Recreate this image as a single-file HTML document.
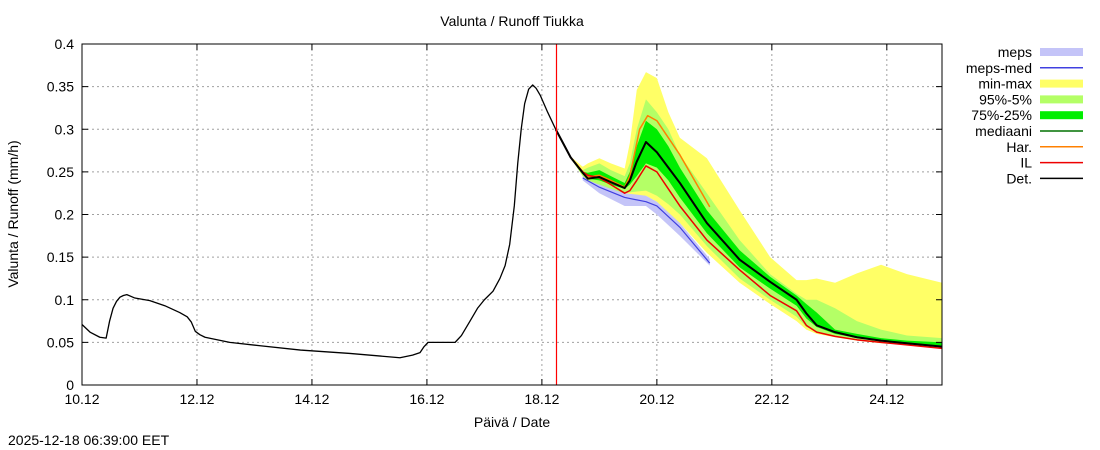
<!DOCTYPE html>
<html><head><meta charset="utf-8"><style>
body{margin:0;background:#fff}
svg{display:block;font-family:"Liberation Sans",sans-serif}
</style></head><body>
<svg id="c" width="1100" height="450" xmlns="http://www.w3.org/2000/svg">
<text x="512" y="26" font-size="14" text-anchor="middle">Valunta / Runoff  Tiukka</text>
<text x="512" y="427" font-size="14" text-anchor="middle">Päivä / Date</text>
<text transform="translate(18,214) rotate(-90)" font-size="14" text-anchor="middle">Valunta / Runoff (mm/h)</text>
<text x="8" y="445" font-size="14">2025-12-18 06:39:00 EET</text>
<g id="grid"></g><g id="series"></g><g id="axes"></g><g id="legend"></g>
</svg>
<script>
const xTickLabels=["10.12","12.12","14.12","16.12","18.12","20.12","22.12","24.12"];
const xTickDays=[0,2,4,6,8,10,12,14];
const yTicks=[0,0.05,0.1,0.15,0.2,0.25,0.3,0.35,0.4];
const yTickLabels=["0","0.05","0.1","0.15","0.2","0.25","0.3","0.35","0.4"];
const histDays=[0,0.14,0.31,0.42,0.48,0.54,0.6,0.66,0.72,0.78,0.92,1.18,1.44,1.7,1.83,1.9,1.97,2.05,2.14,2.57,3.1,3.8,4.66,5.53,5.75,5.88,5.95,6.02,6.49,6.6,6.75,6.88,7.0,7.15,7.27,7.36,7.44,7.52,7.58,7.64,7.7,7.77,7.84,7.9,7.97,8.1,8.24];
const histVals=[0.071,0.062,0.056,0.055,0.075,0.09,0.098,0.103,0.105,0.106,0.102,0.099,0.093,0.085,0.08,0.074,0.063,0.059,0.056,0.05,0.046,0.041,0.037,0.032,0.035,0.038,0.045,0.05,0.05,0.058,0.075,0.09,0.1,0.11,0.125,0.14,0.165,0.21,0.26,0.3,0.33,0.347,0.352,0.348,0.34,0.32,0.3];
const fDays=[8.24,8.5,8.71,8.8,9.0,9.2,9.44,9.53,9.65,9.81,10.0,10.2,10.4,10.87,11.44,11.97,12.43,12.6,12.78,13.1,13.48,13.9,14.35,14.96];
const det=[0.3,0.267,0.249,0.242,0.244,0.238,0.231,0.24,0.262,0.285,0.273,0.255,0.237,0.19,0.147,0.121,0.1,0.084,0.07,0.062,0.056,0.052,0.049,0.045];
const maxV=[0.3,0.268,0.256,0.26,0.266,0.26,0.254,0.284,0.346,0.367,0.36,0.32,0.29,0.266,0.205,0.15,0.123,0.123,0.125,0.12,0.131,0.141,0.13,0.12];
const minV=[0.3,0.266,0.245,0.238,0.228,0.22,0.213,0.215,0.218,0.222,0.215,0.2,0.19,0.155,0.12,0.095,0.075,0.065,0.06,0.056,0.052,0.049,0.047,0.044];
const p95=[0.3,0.267,0.252,0.255,0.26,0.252,0.245,0.26,0.3,0.335,0.32,0.3,0.27,0.225,0.17,0.13,0.107,0.1,0.1,0.09,0.075,0.065,0.058,0.055];
const p5=[0.3,0.266,0.245,0.24,0.235,0.23,0.225,0.226,0.227,0.228,0.222,0.212,0.2,0.163,0.125,0.1,0.08,0.068,0.062,0.057,0.053,0.05,0.048,0.046];
const p75=[0.3,0.267,0.25,0.249,0.252,0.245,0.237,0.25,0.28,0.31,0.3,0.28,0.255,0.205,0.158,0.127,0.105,0.095,0.085,0.065,0.06,0.055,0.052,0.05];
const p25=[0.3,0.266,0.247,0.242,0.24,0.235,0.23,0.235,0.245,0.26,0.255,0.24,0.22,0.178,0.138,0.113,0.093,0.078,0.068,0.06,0.055,0.052,0.049,0.046];
const il=[0.3,0.267,0.25,0.246,0.243,0.235,0.225,0.228,0.24,0.257,0.25,0.23,0.21,0.17,0.135,0.105,0.087,0.07,0.062,0.057,0.053,0.05,0.047,0.043];
const harDays=[8.24,8.5,8.71,8.8,9.0,9.2,9.44,9.53,9.7,9.84,10.0,10.4,10.92];
const har=[0.3,0.267,0.25,0.244,0.246,0.24,0.232,0.245,0.3,0.316,0.31,0.27,0.209];
const mepsDays=[8.71,9.0,9.44,9.81,10.0,10.4,10.92];
const mepsMed=[0.243,0.232,0.22,0.215,0.21,0.185,0.143];
const mepsHi=[0.246,0.236,0.225,0.222,0.215,0.19,0.148];
const mepsLo=[0.24,0.225,0.21,0.21,0.2,0.175,0.14];
const nowDay=8.24;

const NS="http://www.w3.org/2000/svg";
const X0=82,X1=942,Y0=385,Y1=44,DMAX=14.96,VMAX=0.4;
const sx=d=>X0+d*(X1-X0)/DMAX, sy=v=>Y0-v*(Y0-Y1)/VMAX;
function mk(tag,attrs,parent){const e=document.createElementNS(NS,tag);for(const k in attrs)e.setAttribute(k,attrs[k]);parent.appendChild(e);return e;}
const grid=document.getElementById('grid'),ser=document.getElementById('series'),ax=document.getElementById('axes'),lg=document.getElementById('legend');
xTickDays.forEach((d,i)=>{const x=sx(d);
 if(i>0){const l=mk('line',{x1:x,x2:x,y1:Y1,y2:Y0,stroke:'#a0a0a0','stroke-dasharray':'2,3'},grid);}
 mk('line',{x1:x,x2:x,y1:Y0,y2:Y0-6,stroke:'#000'},ax);mk('line',{x1:x,x2:x,y1:Y1,y2:Y1+6,stroke:'#000'},ax);
 const t=mk('text',{x:x,y:Y0+19,'font-size':14,'text-anchor':'middle'},ax);t.textContent=xTickLabels[i];
 });
yTicks.forEach((v,i)=>{const y=sy(v);
 if(i>0&&i<yTicks.length-1){const l=mk('line',{x1:X0,x2:X1,y1:y,y2:y,stroke:'#a0a0a0','stroke-dasharray':'2,3'},grid);}
 mk('line',{x1:X0,x2:X0+6,y1:y,y2:y,stroke:'#000'},ax);mk('line',{x1:X1,x2:X1-6,y1:y,y2:y,stroke:'#000'},ax);
 const t=mk('text',{x:X0-8,y:y+5,'font-size':14,'text-anchor':'end'},ax);t.textContent=yTickLabels[i];
 });
const fr=mk('rect',{x:X0,y:Y1,width:X1-X0,height:Y0-Y1,fill:'none',stroke:'#000'},ax);

function band(days,hi,lo,fill,name){let p=days.map((d,i)=>sx(d)+','+sy(hi[i]));for(let i=days.length-1;i>=0;i--)p.push(sx(days[i])+','+sy(lo[i]));
 const e=mk('polygon',{points:p.join(' '),fill:fill},ser);}
function line(days,vals,col,w,name){const e=mk('polyline',{points:days.map((d,i)=>sx(d)+','+sy(vals[i])).join(' '),fill:'none',stroke:col,'stroke-width':w,'stroke-linejoin':'round'},ser);
 }
band(fDays,maxV,minV,'#ffff66','min-max-band');
band(mepsDays,mepsHi,mepsLo,'#c4c4f8','meps-band');
band(fDays,p95,p5,'#b4ff66','p95-p5-band');
band(fDays,p75,p25,'#00ee00','p75-p25-band');
line(mepsDays,mepsMed,'#4040e0',1.2,'meps-med-line');
line(fDays,det,'#007000',1.5,'mediaani-line');
line(harDays,har,'#ff8000',1.5,'har-line');
line(fDays,il,'#ee0000',1.5,'il-line');
line(histDays,histVals,'#000',1.3,'history-det-line');
line(fDays,det,'#000',2,'det-line');
const nl=mk('line',{x1:Math.round(sx(nowDay))+0.5,x2:Math.round(sx(nowDay))+0.5,y1:Y1,y2:Y0,stroke:'#ff0000','stroke-width':1.2},ser);

const legNames=["meps","meps-med","min-max","95%-5%","75%-25%","mediaani","Har.","IL","Det."];
const legCols=["#c4c4f8","#4040e0","#ffff66","#b4ff66","#00ee00","#007000","#ff8000","#ee0000","#000"];
const legBox=[1,0,1,1,1,0,0,0,0];
legNames.forEach((n,i)=>{const y=52+i*15.8;
 const t=mk('text',{x:1032,y:y+5,'font-size':14,'text-anchor':'end'},lg);t.textContent=n;
 
 let s;if(legBox[i])s=mk('rect',{x:1040,y:y-4,width:43,height:8,fill:legCols[i]},lg);
 else s=mk('line',{x1:1040,x2:1083,y1:y,y2:y,stroke:legCols[i],'stroke-width':1.5},lg);
 });
</script>
</body></html>
